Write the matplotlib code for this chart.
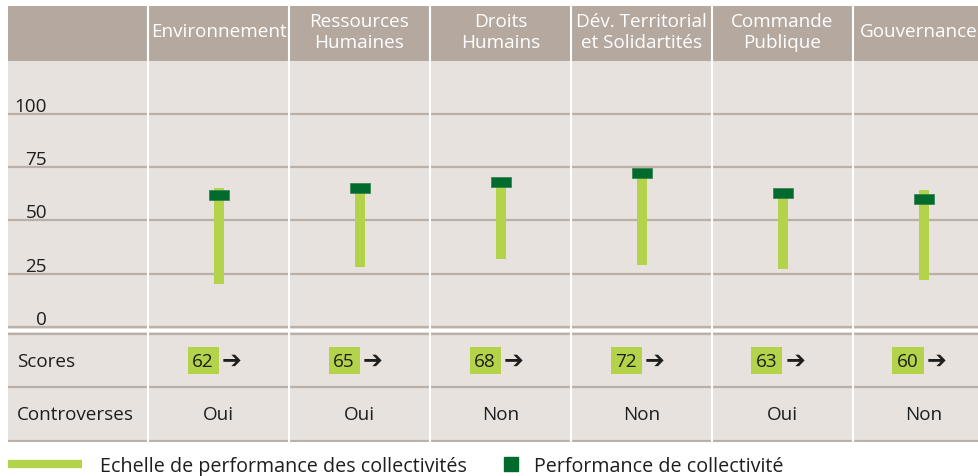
import numpy as np
import matplotlib
matplotlib.use('Agg')
import matplotlib.pyplot as plt
from matplotlib.lines import Line2D

# Data
categories = ['Environnement', 'Ressources\nHumaines', 'Droits\nHumains',
              'Dév. Territorial\net Solidartités', 'Commande\nPublique', 'Gouvernance']
range_low = [20, 28, 32, 29, 27, 22]
range_high = [65, 65, 68, 72, 63, 64]
scores = [62, 65, 68, 72, 63, 60]
controverses = ['Oui', 'Oui', 'Non', 'Non', 'Oui', 'Non']
y_ticks = [0, 25, 50, 75, 100]
row_labels = ['Scores', 'Controverses']
legend_labels = ['Echelle de performance des collectivités', 'Performance de collectivité']

# Colours
LIGHT = '#B2D34A'
DARK = '#006B2D'
BG = '#E7E2DE'
HEADER = '#B5A99F'
GRID = '#BAB0A8'
TEXT = '#1E1E1E'

plt.rcParams['font.family'] = ['Open Sans', 'DejaVu Sans']
plt.rcParams['font.size'] = 13.6

# Layout (pixels)
W, H = 979, 477
COL_W = 141
X_LEFT, X_FIRST = 8, 148
PX_PER_UNIT = 53.33 / 25
ROW_H = 53.25


def xdata(px):
    return (px - X_FIRST) / COL_W - 0.5


fig = plt.figure(figsize=(W / 100, H / 100), dpi=100)
x = np.arange(len(categories))


def add_panel(top_px, bottom_px, color):
    ax = fig.add_axes([X_LEFT / W, 1 - bottom_px / H, (W - X_LEFT) / W, (bottom_px - top_px) / H])
    ax.set_xlim(xdata(X_LEFT), xdata(W))
    ax.set_facecolor(color)
    ax.set_xticks([])
    ax.set_yticks([])
    for s in ax.spines.values():
        s.set_visible(False)
    for b in x - 0.5:
        ax.axvline(b, color='white', lw=1.5, zorder=2)
    return ax


# Header
ax_head = add_panel(7, 62, HEADER)
ax_head.set_ylim(0, 1)
head_texts = []
for i, cat in enumerate(categories):
    head_texts.append(ax_head.text(i, 0.54, cat, ha='center', va='center',
                                   color='white', linespacing=1.2))

# keep the last (truncated column) label inside the figure
fig.canvas.draw()
for t in head_texts:
    bb = t.get_window_extent()
    if bb.x1 > W - 1:
        t.set_x(t.get_position()[0] - (bb.x1 - (W - 1)) / COL_W)

# Chart
ax = add_panel(62, 330, BG)
ax.set_ylim(-2 / PX_PER_UNIT, (328 - 62) / PX_PER_UNIT)
for t in y_ticks:
    ax.axhline(t, color=GRID, lw=1.6, zorder=1)
    ax.text(xdata(47), t + 3 / PX_PER_UNIT, str(t), ha='right', va='baseline', color=TEXT)

low = np.array(range_low)
high = np.array(range_high)
ax.bar(x, high - low, bottom=low, width=10 / COL_W, color=LIGHT, zorder=3)
mark_h = 10 / PX_PER_UNIT
ax.bar(x, mark_h, bottom=np.array(scores) - mark_h / 2, width=20 / COL_W,
       color=DARK, edgecolor='#2F7F48', lw=0.5, zorder=4)

# Table rows
ax_tab = add_panel(333, 443, BG)
ax_tab.set_ylim((441.5 - 443) / ROW_H, (441.5 - 333) / ROW_H)
for y in [0, 1, 2]:
    ax_tab.axhline(y, color=GRID, lw=1.6, zorder=1)
ax_tab.text(xdata(17), 1.5, row_labels[0], ha='left', va='center', color=TEXT)
ax_tab.text(xdata(17), 0.5, row_labels[1], ha='left', va='center', color=TEXT)

box_h = 27 / ROW_H
ax_tab.bar(x - 15.5 / COL_W, box_h, bottom=1.5 - box_h / 2, width=31 / COL_W,
           color=LIGHT, zorder=3)
for i, (s, c) in enumerate(zip(scores, controverses)):
    ax_tab.text(i - 15.5 / COL_W, 1.5, str(s), ha='center', va='center', color=TEXT, zorder=4)
    ax_tab.text(i + 13.5 / COL_W, 1.52, '\u2794', ha='center', va='center', color=TEXT,
                family='DejaVu Sans', fontsize=17, zorder=4)
    ax_tab.text(i, 0.5, c, ha='center', va='center', color=TEXT)

# Legend
leg_fs = 14.2
fs_px = leg_fs * 100 / 72
leg1 = fig.legend(handles=[Line2D([0], [0], color=LIGHT, lw=6, solid_capstyle='butt')],
                  labels=[legend_labels[0]], loc='center left', fontsize=leg_fs,
                  bbox_to_anchor=(8 / W, 10 / H), frameon=False, borderpad=0,
                  borderaxespad=0, handlelength=74 / fs_px, handletextpad=18 / fs_px,
                  labelcolor=TEXT)
leg2 = fig.legend(handles=[Line2D([0], [0], marker='s', color=DARK, ls='', markersize=10)],
                  labels=[legend_labels[1]], loc='center left', fontsize=leg_fs,
                  bbox_to_anchor=(502 / W, 10 / H), frameon=False, borderpad=0,
                  borderaxespad=0, handlelength=18 / fs_px, handletextpad=14 / fs_px,
                  labelcolor=TEXT)

fig.savefig('out.png', dpi=100)
